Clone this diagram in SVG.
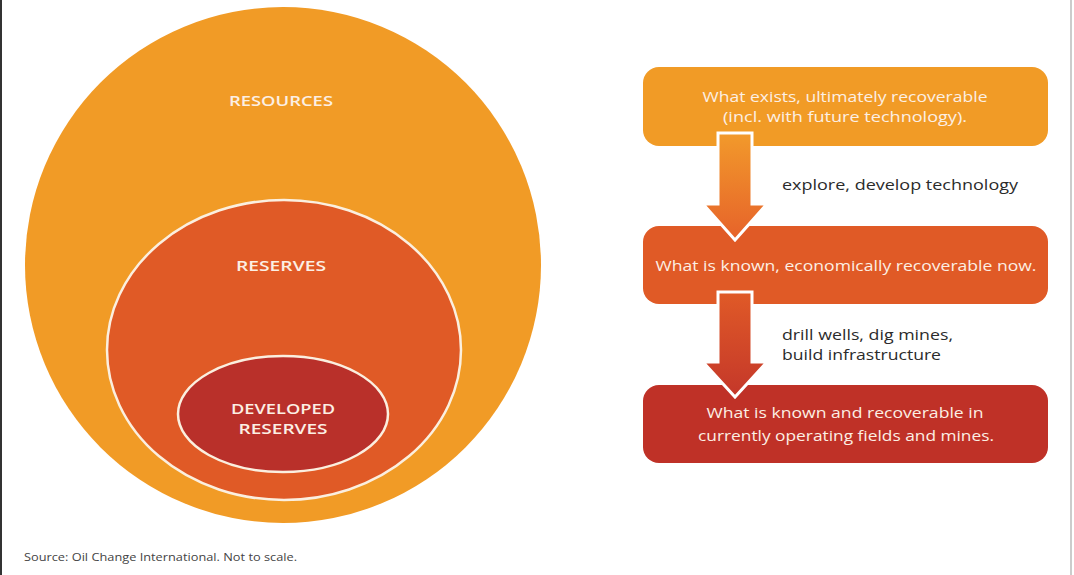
<svg xmlns="http://www.w3.org/2000/svg" width="1074" height="575" viewBox="0 0 1074 575">
<defs>
<linearGradient id="g1" x1="0" y1="0" x2="0" y2="1"><stop offset="0" stop-color="#F29A2B"/><stop offset="1" stop-color="#E6622A"/></linearGradient>
<linearGradient id="g2" x1="0" y1="0" x2="0" y2="1"><stop offset="0" stop-color="#E05A27"/><stop offset="1" stop-color="#C4372A"/></linearGradient>
<style>
.lbl{font-family:"Open Sans","Liberation Sans",sans-serif;font-size:15px;font-weight:600;fill:#FCEFE4;text-anchor:middle}
.bt{font-family:"Open Sans","Liberation Sans",sans-serif;font-size:15px;font-weight:500;fill:#FCEFE4;text-anchor:middle}
.side{font-family:"Open Sans","Liberation Sans",sans-serif;font-size:15px;font-weight:500;fill:#2b2b2b}
.src{font-family:"Open Sans","Liberation Sans",sans-serif;font-size:11.5px;fill:#444}
.ring{stroke:#FBEFDF;stroke-width:2.5}
.arr{stroke:#fff;stroke-width:3;stroke-linejoin:miter}
</style>
</defs>
<rect width="1074" height="575" fill="#fff"/>
<line x1="1" y1="0" x2="1" y2="575" stroke="#333" stroke-width="2"/>
<line x1="1071" y1="0" x2="1071" y2="575" stroke="#bbb" stroke-width="1.5"/>
<g id="resources">
<circle cx="283" cy="265" r="258" fill="#F19B26"/>
<text class="lbl" x="281" y="106" textLength="104" lengthAdjust="spacingAndGlyphs">RESOURCES</text>
</g>
<g id="reserves">
<ellipse cx="284" cy="350" rx="177" ry="150" fill="#E05A26" class="ring"/>
<text class="lbl" x="281" y="271" textLength="90" lengthAdjust="spacingAndGlyphs">RESERVES</text>
</g>
<g id="developed">
<ellipse cx="283" cy="414" rx="105" ry="58" fill="#B9302A" class="ring"/>
<text class="lbl" x="283" y="414" textLength="104" lengthAdjust="spacingAndGlyphs">DEVELOPED</text>
<text class="lbl" x="283" y="434" textLength="89" lengthAdjust="spacingAndGlyphs">RESERVES</text>
</g>
<g id="box1">
<rect x="643" y="67" width="405" height="79" rx="16" fill="#F19B26"/>
<text class="bt" x="845" y="102" textLength="285" lengthAdjust="spacingAndGlyphs">What exists, ultimately recoverable</text>
<text class="bt" x="845" y="122" textLength="244" lengthAdjust="spacingAndGlyphs">(incl. with future technology).</text>
</g>
<g id="box2">
<rect x="643" y="226" width="405" height="78" rx="16" fill="#E05A26"/>
<text class="bt" x="846" y="271" textLength="381" lengthAdjust="spacingAndGlyphs">What is known, economically recoverable now.</text>
</g>
<g id="box3">
<rect x="643" y="385" width="405" height="78" rx="16" fill="#BF3127"/>
<text class="bt" x="845" y="418" textLength="277" lengthAdjust="spacingAndGlyphs">What is known and recoverable in</text>
<text class="bt" x="846" y="441" textLength="296" lengthAdjust="spacingAndGlyphs">currently operating fields and mines.</text>
</g>
<g id="connectors">
<path class="arr" fill="url(#g1)" d="M718 133 H752 V204 H767 L735 240 L703 204 H718 Z"/>
<path class="arr" fill="url(#g2)" d="M718 292 H752 V362 H767 L735 397 L703 362 H718 Z"/>
<text class="side" x="782" y="190" textLength="236" lengthAdjust="spacingAndGlyphs">explore, develop technology</text>
<text class="side" x="782" y="340" textLength="171" lengthAdjust="spacingAndGlyphs">drill wells, dig mines,</text>
<text class="side" x="782" y="360" textLength="159" lengthAdjust="spacingAndGlyphs">build infrastructure</text>
</g>
<text class="src" x="24" y="561" textLength="273" lengthAdjust="spacingAndGlyphs">Source: Oil Change International. Not to scale.</text>
</svg>
